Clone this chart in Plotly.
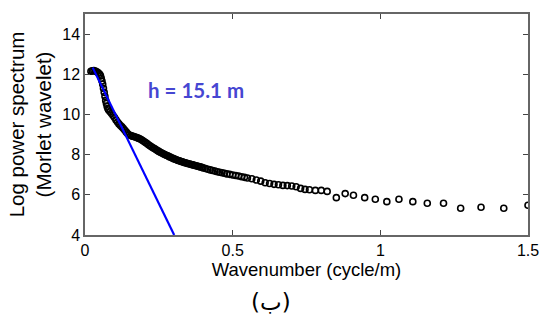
import plotly.graph_objects as go

# Spectrum samples (wavenumber in cycle/m, log power)
wavenumber = [
    0.020, 0.025, 0.030, 0.035, 0.040, 0.045, 0.050, 0.0525, 0.055, 0.0575,
    0.060, 0.0625, 0.065, 0.0675, 0.070, 0.0725, 0.075, 0.0775, 0.080, 0.085,
    0.090, 0.095, 0.100, 0.105, 0.110, 0.115, 0.120, 0.125, 0.130, 0.135,
    0.140, 0.145, 0.150, 0.155, 0.160, 0.165, 0.170, 0.175, 0.180, 0.185,
    0.190, 0.195, 0.200, 0.205, 0.210, 0.215, 0.220, 0.225, 0.230, 0.235,
    0.240, 0.245, 0.250, 0.255, 0.260, 0.265, 0.270, 0.275, 0.280, 0.285,
    0.290, 0.295, 0.300, 0.305, 0.310, 0.315, 0.320, 0.325, 0.330, 0.335,
    0.340, 0.345, 0.350, 0.355, 0.360, 0.365, 0.370, 0.375, 0.380, 0.385,
    0.390, 0.395, 0.400, 0.408, 0.416, 0.424, 0.432, 0.440, 0.448, 0.456,
    0.464, 0.472, 0.480, 0.490, 0.500, 0.510, 0.520, 0.530, 0.540, 0.550,
    0.565, 0.580, 0.595, 0.610, 0.625, 0.640, 0.655, 0.670, 0.685, 0.700,
    0.715, 0.730, 0.745, 0.760, 0.780, 0.800, 0.820, 0.851, 0.881, 0.909,
    0.947, 0.983, 1.022, 1.063, 1.110, 1.159, 1.214, 1.272, 1.341, 1.418,
    1.500,
]
log_power = [
    12.15, 12.17, 12.18, 12.16, 12.12, 12.07, 12.00, 11.92, 11.80, 11.66,
    11.50, 11.30, 11.10, 10.90, 10.70, 10.55, 10.40, 10.30, 10.22, 10.14,
    10.05, 9.95, 9.85, 9.73, 9.62, 9.53, 9.45, 9.38, 9.30, 9.21,
    9.12, 9.04, 8.98, 8.95, 8.92, 8.90, 8.88, 8.85, 8.82, 8.79,
    8.75, 8.70, 8.65, 8.60, 8.55, 8.49, 8.44, 8.39, 8.34, 8.30,
    8.25, 8.20, 8.16, 8.12, 8.08, 8.04, 8.01, 7.97, 7.94, 7.90,
    7.87, 7.83, 7.80, 7.77, 7.74, 7.71, 7.69, 7.66, 7.64, 7.61,
    7.59, 7.57, 7.55, 7.53, 7.51, 7.49, 7.47, 7.45, 7.43, 7.41,
    7.39, 7.37, 7.34, 7.31, 7.27, 7.24, 7.21, 7.18, 7.15, 7.12,
    7.10, 7.07, 7.04, 7.02, 6.99, 6.96, 6.94, 6.90, 6.87, 6.84,
    6.80, 6.74, 6.68, 6.60, 6.56, 6.52, 6.50, 6.47, 6.46, 6.44,
    6.40, 6.32, 6.27, 6.25, 6.22, 6.22, 6.17, 5.86, 6.06, 5.98,
    5.86, 5.78, 5.66, 5.78, 5.66, 5.58, 5.58, 5.33, 5.38, 5.33,
    5.48,
]

# Linear fit for depth estimate
fit_x = [0.026, 0.302]
fit_y = [12.33, 4.0]

x_ticks = [0, 0.5, 1, 1.5]
x_tick_labels = ["0", "0.5", "1", "1.5"]
y_ticks = [4, 6, 8, 10, 12, 14]
y_tick_labels = ["4", "6", "8", "10", "12", "14"]

font = "Liberation Sans, Arial, sans-serif"

fig = go.Figure()
fig.add_trace(go.Scatter(
    x=wavenumber, y=log_power, mode="markers",
    marker=dict(symbol="circle-open", size=6, color="black", line=dict(width=1.6, color="black")),
    showlegend=False, cliponaxis=True,
))
fig.add_trace(go.Scatter(
    x=fit_x, y=fit_y, mode="lines",
    line=dict(color="#0000ff", width=2.2),
    showlegend=False,
))

fig.add_annotation(
    x=0.375, y=11.2, xref="x", yref="y",
    text="<b>h = 15.1 m</b>", showarrow=False,
    font=dict(family="Lato, Open Sans, sans-serif", size=20.5, color="#4646d2"),
)
fig.add_annotation(
    x=0.42, y=-0.305, xref="paper", yref="paper",
    text="(ب)", showarrow=False, yanchor="middle",
    font=dict(family="DejaVu Sans, sans-serif", size=23, color="black"),
)

axis_common = dict(
    showline=True, linecolor="#666666", linewidth=1.5, mirror="ticks",
    ticks="inside", ticklen=5, tickwidth=1.2, tickcolor="#444444",
    showgrid=False, zeroline=False,
    tickfont=dict(family=font, size=16, color="black"),
)

fig.update_xaxes(
    range=[0, 1.5], tickvals=x_ticks, ticktext=x_tick_labels,
    title=dict(text="Wavenumber (cycle/m)", font=dict(family=font, size=18.5, color="black"), standoff=3),
    **axis_common,
)
fig.update_yaxes(
    range=[4, 15], tickvals=y_ticks, ticktext=y_tick_labels,
    title=dict(text="Log power spectrum<br>(Morlet wavelet)", font=dict(family=font, size=20.5, color="black"), standoff=5),
    **axis_common,
)

fig.update_layout(
    width=550, height=321,
    margin=dict(l=85, r=11, t=14, b=86),
    paper_bgcolor="white", plot_bgcolor="white",
)

fig.write_html("out.html")
